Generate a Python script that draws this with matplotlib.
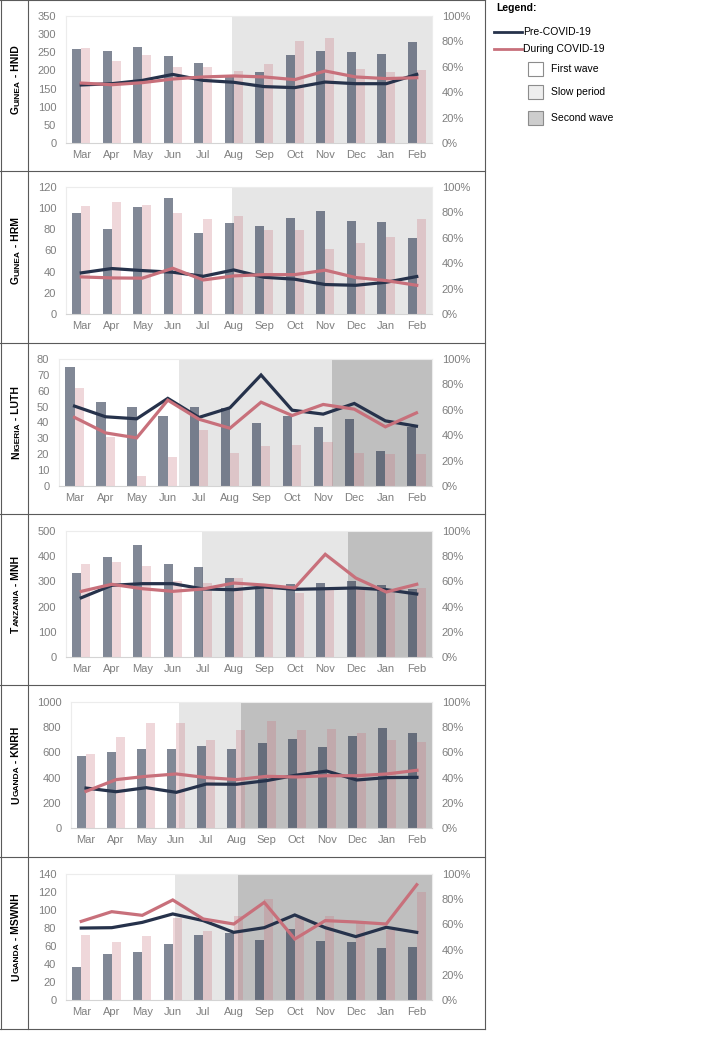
import matplotlib

matplotlib.use("Agg")
import matplotlib.pyplot as plt
import numpy as np
from matplotlib.lines import Line2D
from matplotlib.patches import Rectangle
from matplotlib.ticker import PercentFormatter

W, H = 727, 1046

plt.rcParams["font.family"] = ["Liberation Sans", "DejaVu Sans"]

MONTHS = ["Mar", "Apr", "May", "Jun", "Jul", "Aug", "Sep", "Oct", "Nov", "Dec", "Jan", "Feb"]

# row labels as (big first letter, small-caps rest, suffix)
LABELS = [
    ("G", "UINEA", " - HNID"),
    ("G", "UINEA", " - HRM"),
    ("N", "IGERIA", " - LUTH"),
    ("T", "ANZANIA", " - MNH"),
    ("U", "GANDA", " - KNRH"),
    ("U", "GANDA", " - MSWNH"),
]

# bars = monthly counts (left axis), lines = share (right axis)
HNID_PRE = [259, 254, 264, 239, 221, 185, 195, 243, 254, 250, 246, 277]
HNID_DUR = [262, 227, 242, 210, 209, 198, 217, 280, 288, 205, 195, 200]
HNID_PRE_PCT = [45.7, 46.7, 49.3, 54.0, 49.3, 47.8, 44.4, 43.6, 48.0, 46.7, 46.7, 54.0]
HNID_DUR_PCT = [47.2, 45.9, 47.5, 50.4, 52.0, 52.8, 52.0, 49.9, 56.7, 52.0, 50.7, 51.4]

HRM_PRE = [95, 80, 101, 110, 77, 86, 83, 91, 97, 88, 87, 72]
HRM_DUR = [102, 106, 103, 95, 90, 93, 79, 79, 61, 67, 73, 90]
HRM_PRE_PCT = [32.4, 35.8, 34.2, 32.9, 29.7, 34.7, 28.9, 27.4, 23.2, 22.6, 25.0, 29.5]
HRM_DUR_PCT = [29.2, 28.4, 28.2, 36.0, 26.8, 30.0, 31.0, 31.0, 34.5, 28.7, 26.3, 22.6]

LUTH_PRE = [75, 53, 50, 44, 50, 49, 40, 44, 37, 42, 22, 37]
LUTH_DUR = [62, 31, 6, 18, 35, 21, 25, 26, 28, 21, 20, 20]
LUTH_PRE_PCT = [62.9, 54.5, 52.9, 69.0, 54.0, 61.6, 87.4, 59.7, 56.6, 65.0, 51.3, 47.1]
LUTH_DUR_PCT = [54.0, 41.8, 37.9, 67.6, 52.6, 45.5, 66.0, 55.5, 64.2, 60.5, 46.6, 57.6]

MNH_PRE = [332, 395, 443, 368, 357, 315, 272, 290, 292, 300, 287, 268]
MNH_DUR = [368, 378, 361, 303, 292, 312, 272, 255, 268, 268, 265, 274]
MNH_PRE_PCT = [47.0, 56.9, 58.2, 58.2, 54.0, 53.4, 55.6, 53.7, 54.2, 54.8, 53.4, 50.0]
MNH_DUR_PCT = [52.1, 57.7, 54.2, 52.1, 54.0, 58.7, 57.1, 54.8, 81.5, 62.7, 51.6, 57.7]

KNRH_PRE = [574, 606, 627, 630, 653, 630, 675, 706, 645, 730, 791, 754]
KNRH_DUR = [587, 722, 836, 836, 701, 780, 852, 775, 788, 757, 701, 680]
KNRH_PRE_PCT = [31.7, 28.8, 32.0, 28.3, 34.9, 34.7, 37.6, 42.0, 45.2, 38.1, 40.0, 40.2]
KNRH_DUR_PCT = [29.1, 38.4, 41.0, 42.9, 40.0, 38.4, 41.0, 40.5, 41.5, 41.5, 42.9, 45.8]

MSWNH_PRE = [37, 51, 53, 62, 72, 75, 67, 79, 66, 65, 58, 59]
MSWNH_DUR = [72, 64, 71, 91, 77, 93, 112, 91, 93, 86, 78, 120]
MSWNH_PRE_PCT = [57.1, 57.4, 61.6, 68.3, 63.0, 53.7, 57.4, 67.5, 57.4, 50.3, 57.7, 53.7]
MSWNH_DUR_PCT = [62.4, 70.1, 67.2, 79.4, 64.3, 60.3, 77.5, 48.4, 63.0, 61.9, 60.3, 91.5]

# left axis max / step per panel
Y_MAX = [350, 120, 80, 500, 1000, 140]
Y_STEP = [50, 20, 10, 100, 200, 20]

# start of slow period / second wave, in month index units
SLOW_START = [4.95, 4.95, 3.36, 3.97, 3.10, 3.07]
SECOND_START = [None, None, 8.28, 8.75, 5.16, 5.14]

PANELS = [
    (HNID_PRE, HNID_DUR, HNID_PRE_PCT, HNID_DUR_PCT),
    (HRM_PRE, HRM_DUR, HRM_PRE_PCT, HRM_DUR_PCT),
    (LUTH_PRE, LUTH_DUR, LUTH_PRE_PCT, LUTH_DUR_PCT),
    (MNH_PRE, MNH_DUR, MNH_PRE_PCT, MNH_DUR_PCT),
    (KNRH_PRE, KNRH_DUR, KNRH_PRE_PCT, KNRH_DUR_PCT),
    (MSWNH_PRE, MSWNH_DUR, MSWNH_PRE_PCT, MSWNH_DUR_PCT),
]

# pixel layout of each plot area (left, top, bottom); right edge shared
AX_LEFT = [66, 66, 59, 66, 71, 66]
AX_TOP = [16, 187, 359, 531, 702, 874]
AX_BOTTOM = [143, 314, 486, 657, 828, 1000]
AX_RIGHT = 432
ROW_LINES = [0, 171, 343, 514, 685, 857, 1029]

NAVY = "#26324b"
PINK = "#c8707b"
SLOW = "#e6e6e6"
SECOND = "#bfbfbf"
TICK = "#7f7f7f"


def fx(x):
    return x / W


def fy(y):
    return 1 - y / H


fig = plt.figure(figsize=(W / 100, H / 100), dpi=100)
renderer = fig.canvas.get_renderer()

x = np.arange(len(MONTHS))
for i, (pre, dur, pre_pct, dur_pct) in enumerate(PANELS):
    left, top, bottom = AX_LEFT[i], AX_TOP[i], AX_BOTTOM[i]
    ax = fig.add_axes([fx(left), fy(bottom), fx(AX_RIGHT - left), (bottom - top) / H])
    ax.axvspan(SLOW_START[i], 11.5, color=SLOW, lw=0, zorder=0.5)
    if SECOND_START[i] is not None:
        ax.axvspan(SECOND_START[i], 11.5, color=SECOND, lw=0, zorder=0.6)
    ax.bar(x - 0.15, pre, width=0.3, color=NAVY, alpha=0.58, lw=0, zorder=2)
    ax.bar(x + 0.15, dur, width=0.3, color=PINK, alpha=0.28, lw=0, zorder=2)
    ax.set_xlim(-0.5, 11.5)
    ax.set_ylim(0, Y_MAX[i])
    ax.set_yticks(np.arange(0, Y_MAX[i] + 1, Y_STEP[i]))
    ax.set_xticks(x)
    ax.set_xticklabels(MONTHS)
    ax.tick_params(length=0, labelsize=8, labelcolor=TICK)
    ax.tick_params(axis="y", pad=7)
    ax.tick_params(axis="x", pad=5)
    for side in ["left", "top", "right"]:
        ax.spines[side].set_color("#ececec")
        ax.spines[side].set_linewidth(0.8)
    ax.spines["bottom"].set_color("#d4d4d4")
    ax.spines["bottom"].set_linewidth(0.8)

    ax2 = ax.twinx()
    ax2.plot(x, np.array(pre_pct) / 100, color=NAVY, lw=2.3, solid_joinstyle="miter")
    ax2.plot(x, np.array(dur_pct) / 100, color=PINK, lw=2.3, solid_joinstyle="miter")
    ax2.set_ylim(0, 1)
    ax2.set_yticks(np.arange(0, 1.01, 0.2))
    ax2.yaxis.set_major_formatter(PercentFormatter(1.0, decimals=0))
    ax2.tick_params(length=0, labelsize=8, labelcolor=TICK, pad=7)
    for side in ax2.spines.values():
        side.set_visible(False)

    # small-caps row label, rotated, stacked from bottom up
    big, small, rest = LABELS[i]
    pieces = [(big, 7.5), (small, 6.0), (rest, 7.5)]
    texts = []
    total = 0
    for s, size in pieces:
        t = fig.text(0, 0, s, rotation=90, rotation_mode="anchor", ha="left", va="baseline",
                     fontsize=size, fontweight="bold", color="black")
        length = t.get_window_extent(renderer).height
        texts.append((t, length))
        total += length
    ypos = (top + bottom) / 2 + total / 2
    for t, length in texts:
        t.set_position((fx(19), fy(ypos)))
        ypos -= length

# table grid
grid_kw = dict(color="#5a5a5a", lw=0.8, transform=fig.transFigure)
for y in ROW_LINES:
    fig.add_artist(Line2D([fx(0), fx(485)], [fy(y), fy(y)], **grid_kw))
for xx in [0.5, 28, 485]:
    fig.add_artist(Line2D([fx(xx), fx(xx)], [fy(0), fy(ROW_LINES[-1])], **grid_kw))

# legend
fig.text(fx(496), fy(8), "Legend:", fontsize=7.5, fontweight="bold", va="center")
for y, color, label in [(32, NAVY, "Pre-COVID-19"), (49, PINK, "During COVID-19")]:
    fig.add_artist(Line2D([fx(494), fx(522)], [fy(y), fy(y)], color=color, lw=2,
                          transform=fig.transFigure))
    fig.text(fx(523), fy(y), label, fontsize=7.5, va="center")
for y, color, label in [(69, "white", "First wave"), (92, "#eeeeee", "Slow period"),
                        (118, "#cdcdcd", "Second wave")]:
    fig.add_artist(Rectangle((fx(528), fy(y + 7)), 15 / W, 14 / H, facecolor=color,
                             edgecolor="#8c8c8c", lw=0.8, transform=fig.transFigure))
    fig.text(fx(551), fy(y), label, fontsize=7.5, va="center")

fig.savefig("out.png", dpi=100)
